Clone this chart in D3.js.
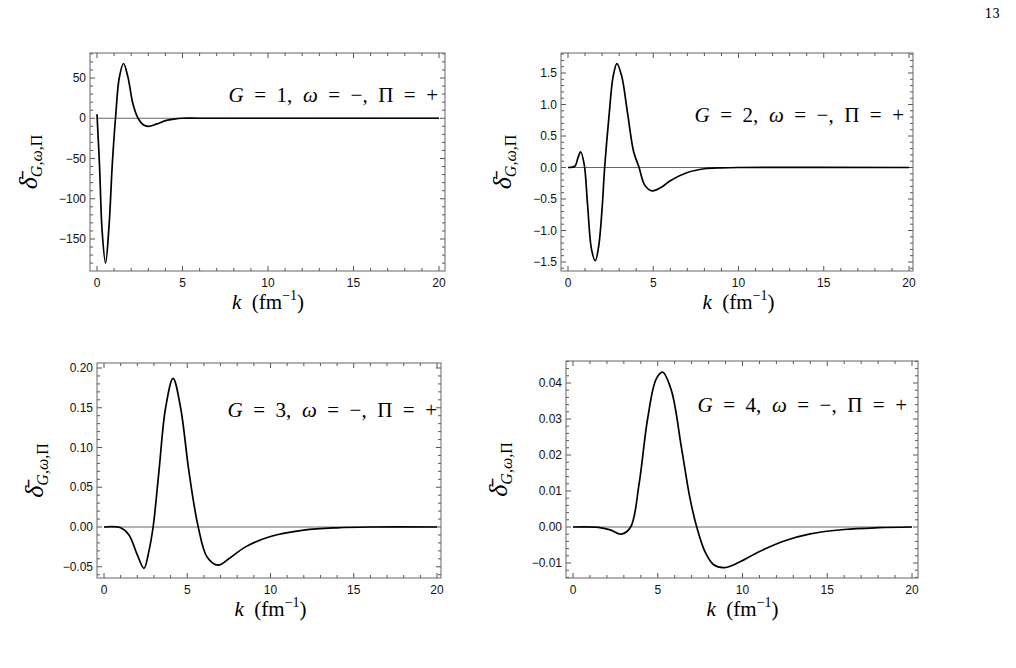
<!DOCTYPE html>
<html><head><meta charset="utf-8">
<script src="https://cdn.jsdelivr.net/npm/d3@7"></script>
<style>body{margin:0;background:#fff}svg{display:block}</style>
</head><body>
<svg id="fig" width="1016" height="668"></svg>
<script>
// values: [k, delta]
var curveG1 = [[0,5],[0.15,-60],[0.3,-140],[0.5,-180],[0.7,-135],[0.9,-55],[1.1,5],[1.3,50],[1.55,68],[1.8,52],[2.1,18],[2.4,0],[2.7,-8],[3.0,-10],[3.5,-7],[4,-3],[4.5,-1],[5,0],[6,0],[20,0]];
var curveG2 = [[0,0],[0.4,0.02],[0.58,0.15],[0.74,0.25],[0.95,0.05],[1.15,-0.6],[1.38,-1.3],[1.6,-1.48],[1.8,-1.25],[2.0,-0.65],[2.15,0],[2.4,0.8],[2.65,1.45],[2.87,1.65],[3.15,1.45],[3.5,0.85],[3.85,0.25],[4.17,0],[4.5,-0.28],[4.92,-0.37],[5.5,-0.31],[6,-0.21],[7,-0.08],[8,-0.02],[9,-0.005],[10,0],[20,0]];
var curveG3 = [[0,0],[1,-0.001],[1.5,-0.01],[2,-0.035],[2.4,-0.052],[2.7,-0.03],[2.95,0],[3.3,0.07],[3.7,0.15],[4.15,0.187],[4.6,0.15],[5.1,0.07],[5.66,0],[6.2,-0.038],[6.86,-0.048],[7.5,-0.04],[8.5,-0.025],[10,-0.012],[12,-0.004],[14,-0.001],[16,0],[20,0]];
var curveG4 = [[0,0],[1.5,-0.0001],[2.2,-0.0008],[2.85,-0.002],[3.4,0],[3.9,0.012],[4.4,0.03],[4.9,0.041],[5.28,0.043],[5.8,0.038],[6.4,0.022],[6.9,0.008],[7.3,0],[7.8,-0.007],[8.3,-0.0105],[8.9,-0.0113],[9.8,-0.0098],[11,-0.0068],[12.5,-0.0038],[14,-0.0019],[16,-0.0007],[18,-0.0002],[20,0]];
var labels = ["G = 1, ω = −, Π = +","G = 2, ω = −, Π = +","G = 3, ω = −, Π = +","G = 4, ω = −, Π = +"];
var yTicks1 = [-150,-100,-50,0,50], yTicks2 = [-1.5,-1,-0.5,0,0.5,1,1.5];
var yTicks3 = [-0.05,0,0.05,0.1,0.15,0.2], yTicks4 = [-0.01,0,0.01,0.02,0.03,0.04];
var xTicks = [0,5,10,15,20];

var panels = [
  {data:curveG1, label:labels[0], ticks:yTicks1, fmt:d3.format(".0f"), minor:10, frame:[90,445,53,271], x0:97, x1:439, ya:{v:50,p:78}, yb:{v:-150,p:239}, lx:438, ly:102, ylab:37},
  {data:curveG2, label:labels[1], ticks:yTicks2, fmt:d3.format(".1f"), minor:0.1, frame:[561,913,53,271], x0:568, x1:909, ya:{v:1.5,p:73}, yb:{v:-1.5,p:262}, lx:904, ly:122, ylab:511},
  {data:curveG3, label:labels[2], ticks:yTicks3, fmt:d3.format(".2f"), minor:0.01, frame:[97,441,363,578], x0:104, x1:437, ya:{v:0.2,p:368}, yb:{v:0,p:527}, lx:437, ly:417, ylab:43},
  {data:curveG4, label:labels[3], ticks:yTicks4, fmt:d3.format(".2f"), minor:0.002, frame:[566,918,361,578], x0:573, x1:912, ya:{v:0.04,p:383}, yb:{v:0,p:527}, lx:907, ly:412, ylab:507}
];

var svg = d3.select("#fig");
svg.append("text").attr("x",1000).attr("y",18).attr("text-anchor","end")
  .attr("font-family","DejaVu Serif").attr("font-size",12).text("13");

panels.forEach(function (p) {
  var L = p.frame[0], R = p.frame[1], T = p.frame[2], B = p.frame[3];
  var x = d3.scaleLinear().domain([0,20]).range([p.x0,p.x1]);
  var y = d3.scaleLinear().domain([p.yb.v,p.ya.v]).range([p.yb.p,p.ya.p]);
  var g = svg.append("g");
  var tc = "#555";

  // minor/major ticks on all four sides
  d3.range(0,20.001,1).forEach(function (v) {
    var len = (v % 5 === 0) ? 5 : 3;
    g.append("line").attr("x1",x(v)).attr("x2",x(v)).attr("y1",B).attr("y2",B-len).attr("stroke",tc);
    g.append("line").attr("x1",x(v)).attr("x2",x(v)).attr("y1",T).attr("y2",T+len).attr("stroke",tc);
  });
  var y0 = y.invert(B), y1 = y.invert(T);
  for (var i = Math.ceil(y0/p.minor - 1e-6); i*p.minor <= y1 + 1e-9; i++) {
    var v = i*p.minor;
    var major = p.ticks.some(function (t) { return Math.abs(t-v) < p.minor/10; });
    var len = major ? 5 : 3;
    g.append("line").attr("x1",L).attr("x2",L+len).attr("y1",y(v)).attr("y2",y(v)).attr("stroke",tc);
    g.append("line").attr("x1",R).attr("x2",R-len).attr("y1",y(v)).attr("y2",y(v)).attr("stroke",tc);
  }

  g.append("rect").attr("x",L).attr("y",T).attr("width",R-L).attr("height",B-T)
    .attr("fill","none").attr("stroke","#666");

  g.selectAll(".xt").data(xTicks).enter().append("text")
    .attr("x",function (d) { return x(d); }).attr("y",B+16).attr("text-anchor","middle")
    .attr("font-family","Liberation Sans").attr("font-size",12).attr("fill","#111").text(function (d) { return d; });
  g.selectAll(".yt").data(p.ticks).enter().append("text")
    .attr("x",L-4).attr("y",function (d) { return y(d)+4; }).attr("text-anchor","end")
    .attr("font-family","Liberation Sans").attr("font-size",12).attr("fill","#111")
    .text(function (d) { return p.fmt(d).replace("-","−"); });

  // zero line
  g.append("line").attr("x1",x(0)).attr("x2",x(20)).attr("y1",y(0)).attr("y2",y(0))
    .attr("stroke","#666").attr("stroke-width",1);

  var line = d3.line().x(function (d) { return x(d[0]); }).y(function (d) { return y(d[1]); })
    .curve(d3.curveCatmullRom.alpha(0.5));
  g.append("path").datum(p.data).attr("d",line).attr("fill","none")
    .attr("stroke","#000").attr("stroke-width",1.7);

  // annotation
  var parts = p.label.split(/(G|ω|Π)/);
  var t = g.append("text").attr("x",p.lx).attr("y",p.ly).attr("text-anchor","end")
    .attr("font-family","Liberation Serif").attr("font-size",21);
  parts.forEach(function (s) {
    if (!s) return;
    var sp = t.append("tspan").text(s.replace(/ /g,"\u2002"));
    if (s === "G" || s === "ω") sp.attr("font-style","italic");
  });

  // x label
  var xl = g.append("text").attr("x",(p.x0+p.x1)/2).attr("y",B+38).attr("text-anchor","middle")
    .attr("font-family","Liberation Serif").attr("font-size",21);
  xl.append("tspan").attr("font-style","italic").text("k");
  xl.append("tspan").text("\u2002(fm");
  xl.append("tspan").attr("font-size",14).attr("dy",-9).text("−1");
  xl.append("tspan").attr("dy",9).text(")");

  // y label
  var yl = g.append("text").attr("transform","translate(" + p.ylab + "," + ((T+B)/2) + ") rotate(-90)")
    .attr("text-anchor","middle").attr("font-family","Liberation Serif").attr("font-size",26);
  yl.append("tspan").attr("font-style","italic").text("δ̄");
  yl.append("tspan").attr("font-size",16).attr("dy",5).attr("font-style","italic").text("G,ω,");
  yl.append("tspan").attr("font-size",16).text("Π");
});
</script>
</body></html>
